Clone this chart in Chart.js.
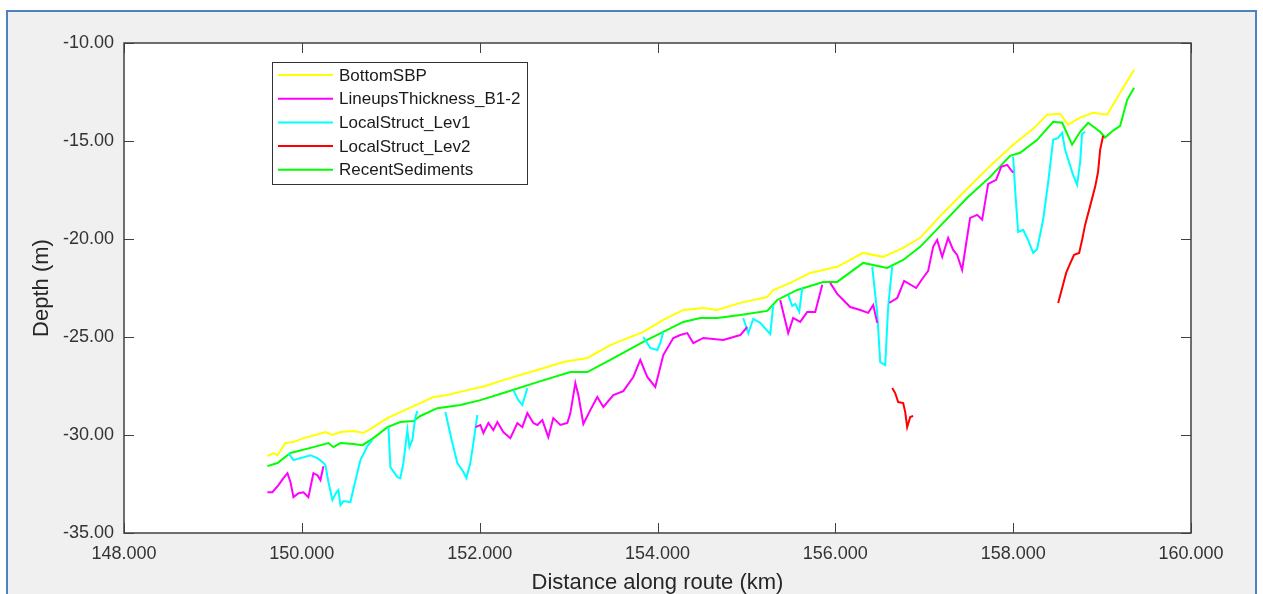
<!DOCTYPE html>
<html>
<head>
<meta charset="utf-8">
<script src="https://cdn.jsdelivr.net/npm/chart.js@4.4.1/dist/chart.umd.min.js"></script>
<style>
  html, body { margin: 0; padding: 0; background: #ffffff; overflow: hidden; }
  #frame { position: absolute; left: 6px; top: 10px; width: 1251px; height: 600px;
           box-sizing: border-box; border: 2px solid #4f81bd; background: #f0f0f0; }
  #wrap { position: absolute; left: 0; top: 0; width: 1263px; height: 594px; }
</style>
</head>
<body>
<div id="frame"></div>
<div id="wrap"><canvas id="c" width="1263" height="594"></canvas></div>
<script>
// ---------- data (km along route, depth in m; null = break in line) ----------
const seriesNames = ["BottomSBP", "LineupsThickness_B1-2", "LocalStruct_Lev1", "LocalStruct_Lev2", "RecentSediments"];
const seriesColors = ["#ffff00", "#ff00ff", "#00ffff", "#ff0000", "#00ff00"];

const xTicks = [148, 150, 152, 154, 156, 158, 160];
const yTicks = [-35, -30, -25, -20, -15, -10];

const bottomKm = [149.613,149.681,149.726,149.816,149.906,150.018,150.153,150.265,150.344,150.434,150.580,150.692,150.805,150.962,151.108,151.333,151.479,151.637,151.862,152.064,152.266,152.457,152.649,152.941,153.211,153.469,153.840,154.065,154.290,154.515,154.672,154.931,155.234,155.302,155.493,155.718,156.021,156.313,156.538,156.763,156.954,157.213,157.483,157.741,158.000,158.225,158.382,158.528,158.618,158.753,158.899,159.057,159.203,159.360];
const bottomDepth = [-31.08,-30.92,-31.03,-30.41,-30.36,-30.16,-30.00,-29.85,-30.00,-29.85,-29.80,-29.90,-29.60,-29.14,-28.83,-28.37,-28.06,-27.96,-27.71,-27.50,-27.20,-26.94,-26.68,-26.28,-26.07,-25.41,-24.74,-24.13,-23.62,-23.52,-23.62,-23.26,-22.96,-22.60,-22.24,-21.73,-21.42,-20.71,-20.91,-20.45,-19.94,-18.67,-17.44,-16.27,-15.19,-14.38,-13.66,-13.61,-14.17,-13.81,-13.56,-13.66,-12.54,-11.36];

const lineupsKm = [149.613,149.669,149.737,149.793,149.838,149.872,149.906,149.962,150.018,150.074,150.130,150.175,150.209,150.243,
  151.000,
  151.952,152.008,152.042,152.098,152.154,152.199,152.266,152.345,152.424,152.480,152.536,152.604,152.649,152.705,152.772,152.828,152.907,152.986,153.020,153.076,153.110,153.166,153.244,153.323,153.391,153.503,153.615,153.728,153.806,153.885,153.975,154.065,154.178,154.256,154.335,154.402,154.515,154.740,154.931,155.009,
  155.200,
  155.380,155.470,155.526,155.605,155.684,155.774,155.853,
  155.900,
  155.942,156.021,156.089,156.167,156.280,156.370,156.426,156.471,
  156.540,
  156.606,156.696,156.774,156.909,156.977,157.044,157.100,157.145,157.202,157.269,157.325,157.370,157.426,157.460,157.516,157.595,157.651,157.719,157.809,157.865,157.932,158.000];
const lineupsDepth = [-32.92,-32.92,-32.56,-32.20,-31.95,-32.40,-33.17,-32.97,-32.92,-33.17,-31.95,-32.05,-32.30,-31.59,
  null,
  -29.60,-29.49,-29.90,-29.39,-29.75,-29.34,-29.85,-30.16,-29.39,-29.60,-28.88,-29.39,-29.49,-29.24,-30.11,-29.14,-29.49,-29.39,-28.88,-27.35,-27.96,-29.44,-28.73,-28.06,-28.57,-27.96,-27.76,-27.04,-26.17,-27.04,-27.55,-25.92,-25.05,-24.90,-24.80,-25.31,-25.05,-25.15,-24.90,-24.49,
  null,
  -23.11,-24.80,-24.03,-24.23,-23.72,-23.72,-22.34,
  null,
  -22.24,-22.80,-23.11,-23.47,-23.62,-23.77,-23.37,-24.28,
  null,
  -23.26,-23.01,-22.14,-22.50,-22.04,-21.63,-20.40,-20.05,-20.91,-19.94,-20.56,-20.81,-21.58,-20.56,-18.92,-18.77,-19.02,-17.19,-16.98,-16.32,-16.22,-16.62];

const lev1Km = [149.849,149.906,149.984,150.097,150.175,150.232,150.265,150.299,150.344,150.389,150.411,150.434,150.468,150.546,150.580,150.659,150.737,150.794,
  150.900,
  150.974,150.996,151.075,151.108,151.142,151.187,151.210,151.243,151.277,151.300,
  151.500,
  151.614,151.693,151.749,151.817,151.850,151.895,151.929,151.974,
  152.200,
  152.379,152.435,152.480,152.536,
  153.500,
  153.840,153.919,153.998,154.031,154.065,
  154.500,
  154.964,155.021,155.077,155.156,155.268,155.302,
  155.400,
  155.470,155.515,155.549,155.594,155.628,
  156.000,
  156.415,156.471,156.505,156.561,156.594,156.640,
  157.500,
  158.000,158.022,158.056,158.112,158.168,158.225,158.270,158.337,158.393,158.450,158.506,158.551,158.584,158.674,158.719,158.753,158.775,158.809];
const lev1Depth = [-30.92,-31.28,-31.18,-31.03,-31.18,-31.38,-31.54,-32.40,-33.32,-32.92,-32.81,-33.58,-33.37,-33.43,-32.76,-31.28,-30.57,-30.26,
  null,
  -29.60,-31.64,-32.15,-32.20,-31.43,-29.75,-30.62,-30.26,-29.08,-28.78,
  null,
  -28.83,-30.41,-31.43,-31.89,-32.20,-31.43,-30.41,-28.98,
  null,
  -27.71,-28.22,-28.47,-27.60,
  null,
  -25.00,-25.56,-25.66,-25.31,-24.74,
  null,
  -24.03,-24.80,-24.08,-24.28,-24.85,-23.37,
  null,
  -22.85,-23.42,-23.31,-23.72,-22.50,
  null,
  -21.42,-23.77,-26.28,-26.43,-23.47,-21.37,
  null,
  -15.81,-17.49,-19.64,-19.53,-20.05,-20.71,-20.51,-19.02,-17.13,-14.94,-14.84,-14.58,-15.45,-16.73,-17.24,-16.11,-14.63,-14.53];

const lev2Km = [156.640,156.673,156.707,156.763,156.786,156.808,156.842,156.875,
  157.500,
  158.506,158.551,158.596,158.629,158.685,158.742,158.775,158.809,158.866,158.922,158.955,158.978,159.012];
const lev2Depth = [-27.60,-27.86,-28.32,-28.37,-28.83,-29.60,-29.08,-29.03,
  null,
  -23.26,-22.50,-21.73,-21.37,-20.81,-20.71,-20.05,-19.28,-18.31,-17.34,-16.57,-15.45,-14.73];

const recentKm = [149.613,149.726,149.872,150.130,150.299,150.355,150.434,150.580,150.681,150.805,150.962,151.108,151.255,151.333,151.524,151.783,152.008,152.266,152.649,153.020,153.211,153.469,153.840,154.065,154.290,154.481,154.672,154.931,155.234,155.347,155.571,155.864,156.021,156.313,156.583,156.763,156.954,157.213,157.483,157.741,157.966,158.079,158.270,158.450,158.551,158.663,158.753,158.843,158.978,159.034,159.124,159.203,159.282,159.360];
const recentDepth = [-31.59,-31.43,-30.92,-30.62,-30.41,-30.62,-30.41,-30.46,-30.52,-30.16,-29.60,-29.34,-29.29,-29.03,-28.63,-28.47,-28.22,-27.86,-27.30,-26.79,-26.79,-26.17,-25.25,-24.74,-24.23,-24.03,-24.03,-23.88,-23.67,-23.11,-22.60,-22.19,-22.19,-21.22,-21.48,-21.07,-20.40,-19.18,-17.90,-16.83,-15.76,-15.60,-14.94,-14.02,-14.07,-15.19,-14.53,-14.07,-14.53,-14.82,-14.47,-14.23,-12.90,-12.28];

// ---------- build ----------
function pts(xs, ys) { return xs.map((x, i) => ({ x: x, y: ys[i] })); }
const seriesData = [
  pts(bottomKm, bottomDepth),
  pts(lineupsKm, lineupsDepth),
  pts(lev1Km, lev1Depth),
  pts(lev2Km, lev2Depth),
  pts(recentKm, recentDepth)
];

const FONT = "'Liberation Sans', Arial, Helvetica, sans-serif";
const AXIS_COLOR = '#404040';

const boxPlugin = {
  id: 'boxPlugin',
  beforeDraw(chart) {
    const a = chart.chartArea, ctx = chart.ctx;
    ctx.save();
    ctx.fillStyle = '#ffffff';
    ctx.fillRect(a.left, a.top, a.right - a.left, a.bottom - a.top);
    ctx.restore();
  },
  afterDraw(chart) {
    const a = chart.chartArea, ctx = chart.ctx;
    const xs = chart.scales.x, ys = chart.scales.y;
    ctx.save();
    ctx.strokeStyle = AXIS_COLOR;
    ctx.lineWidth = 1.5;
    ctx.strokeRect(a.left, a.top, a.right - a.left, a.bottom - a.top);
    ctx.lineWidth = 1;
    const L = 10;
    ctx.beginPath();
    xTicks.forEach(v => {
      const p = Math.round(xs.getPixelForValue(v)) + 0.5;
      ctx.moveTo(p, a.bottom); ctx.lineTo(p, a.bottom - L);
      ctx.moveTo(p, a.top); ctx.lineTo(p, a.top + L);
    });
    yTicks.forEach(v => {
      const p = Math.round(ys.getPixelForValue(v)) + 0.5;
      ctx.moveTo(a.left, p); ctx.lineTo(a.left + L, p);
      ctx.moveTo(a.right, p); ctx.lineTo(a.right - L, p);
    });
    ctx.stroke();

    // legend
    const lx = 272, ly = 62, lw = 255, lh = 122;
    ctx.fillStyle = '#ffffff';
    ctx.fillRect(lx, ly, lw, lh);
    ctx.strokeStyle = '#333333';
    ctx.lineWidth = 1;
    ctx.strokeRect(lx + 0.5, ly + 0.5, lw, lh);
    ctx.font = '17px ' + FONT;
    ctx.textBaseline = 'middle';
    ctx.textAlign = 'left';
    chart.data.datasets.forEach((ds, i) => {
      const cy = 75 + i * 23.7;
      ctx.strokeStyle = ds.borderColor;
      ctx.lineWidth = 2;
      ctx.beginPath();
      ctx.moveTo(278, cy); ctx.lineTo(333, cy);
      ctx.stroke();
      ctx.fillStyle = '#1a1a1a';
      ctx.fillText(ds.label, 339, cy + 1);
    });
    ctx.restore();
  }
};

new Chart(document.getElementById('c'), {
  type: 'line',
  data: {
    datasets: seriesNames.map((n, i) => ({
      label: n,
      data: seriesData[i],
      borderColor: seriesColors[i],
      backgroundColor: seriesColors[i],
      borderWidth: 2,
      pointRadius: 0,
      tension: 0,
      spanGaps: false,
      fill: false
    }))
  },
  options: {
    responsive: false,
    animation: false,
    events: [],
    layout: { padding: { left: 31, top: 43, right: 72, bottom: 0 } },
    plugins: { legend: { display: false }, tooltip: { enabled: false } },
    scales: {
      x: {
        type: 'linear',
        min: 148, max: 160,
        afterBuildTicks(scale) { scale.ticks = xTicks.map(v => ({ value: v })); },
        afterFit(scale) { scale.height = 61; },
        grid: { display: false, drawTicks: false },
        border: { display: false },
        ticks: {
          autoSkip: false, maxRotation: 0, padding: 10,
          color: '#333333', font: { family: FONT, size: 18 },
          callback: v => Number(v).toFixed(3)
        },
        title: {
          display: true, text: 'Distance along route (km)', color: '#262626',
          font: { family: FONT, size: 22, lineHeight: 1 }, padding: 0
        }
      },
      y: {
        type: 'linear',
        min: -35, max: -10,
        afterBuildTicks(scale) { scale.ticks = yTicks.map(v => ({ value: v })); },
        afterFit(scale) { scale.width = 93; },
        grid: { display: false, drawTicks: false },
        border: { display: false },
        ticks: {
          autoSkip: false, padding: 10,
          color: '#333333', font: { family: FONT, size: 18 },
          callback: v => Number(v).toFixed(2)
        },
        title: {
          display: true, text: 'Depth (m)', color: '#262626',
          font: { family: FONT, size: 22, lineHeight: 1 }, padding: 0
        }
      }
    }
  },
  plugins: [boxPlugin]
});
</script>
</body>
</html>
